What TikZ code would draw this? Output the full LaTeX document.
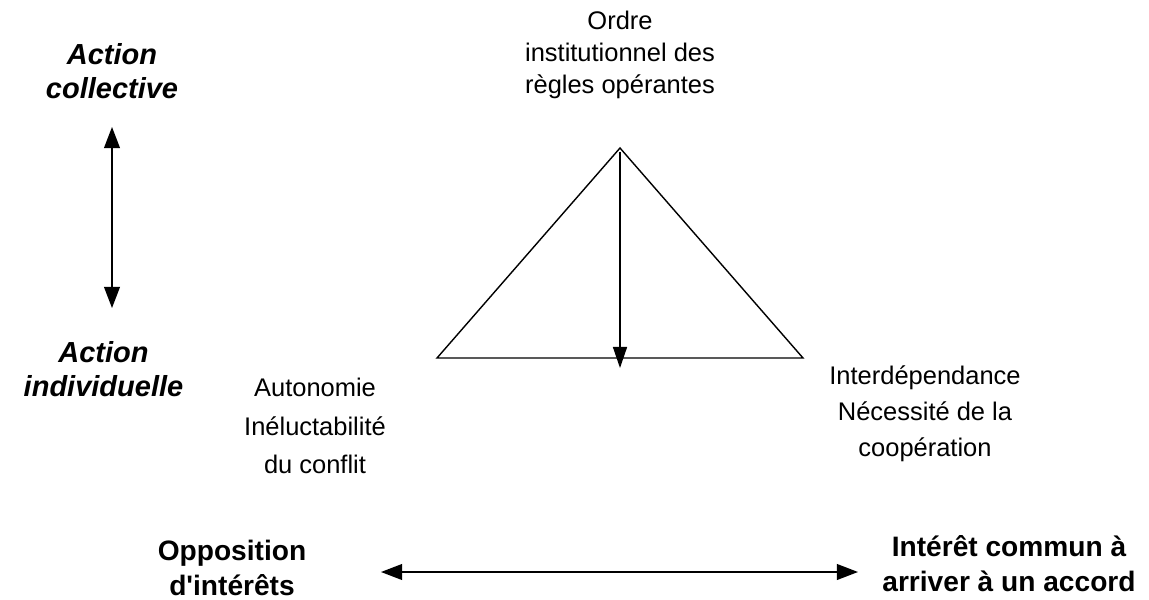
\documentclass[tikz,border=0pt]{standalone}
\usepackage{fontspec}
\setmainfont{Liberation Sans}
\usepackage{tikz}
\usetikzlibrary{positioning,arrows.meta}
\tikzstyle{plain}=[align=center, inner sep=0pt, font=\fontsize{14.5}{18}\selectfont]
\tikzstyle{axis}=[align=center, inner sep=0pt, font=\fontsize{16}{20}\selectfont\bfseries]
\tikzstyle{level}=[align=center, inner sep=0pt, font=\fontsize{16.5}{19.5}\selectfont\bfseries\itshape]
\tikzstyle{dblarrow}=[thick, {Triangle[length=12pt,width=9pt]}-{Triangle[length=12pt,width=9pt]}]

\begin{document}
\begin{tikzpicture}
            \useasboundingbox (0,0) rectangle (22.98,-11.98);
            % triangle des regles
            \coordinate (top) at (12.4,-2.96);
            \coordinate (left) at (8.74,-7.16);
            \coordinate (right) at (16.06,-7.16);
            \coordinate (foot) at (12.4,-7.36);
            \draw[thick] (top) -- (left) -- (right) -- cycle;
            \draw[thick, -{Triangle[length=12pt,width=8pt]}] ([yshift=-2pt]top) -- (foot);

            \node (ordre)[plain] at (12.4,-1.1)
                {Ordre\\institutionnel des\\règles opérantes};
            \node (autonomie)[plain, font=\fontsize{14.5}{22}\selectfont] at (6.3,-8.52)
                {Autonomie\\Inéluctabilité\\du conflit};
            \node (interdep)[plain, font=\fontsize{14.5}{20.5}\selectfont] at (18.5,-8.27)
                {Interdépendance\\Nécessité de la\\coopération};

            % axe vertical
            \node (collective)[level] at (2.24,-1.42) {Action\\collective};
            \node (individuelle)[level] at (2.07,-7.39) {Action\\individuelle};
            \coordinate (vhaut) at (2.24,-2.54);
            \coordinate (vbas) at (2.24,-6.16);
            \draw[dblarrow] (vhaut) -- (vbas);

            % axe horizontal
            \node (opposition)[axis] at (4.64,-11.36) {Opposition\\d\textquotesingle intérêts};
            \node (commun)[axis] at (20.18,-11.28) {Intérêt commun à\\arriver à un accord};
            \coordinate (hgauche) at (7.62,-11.44);
            \coordinate (hdroite) at (17.16,-11.44);
            \draw[dblarrow] (hgauche) -- (hdroite);
\end{tikzpicture}
\end{document}
